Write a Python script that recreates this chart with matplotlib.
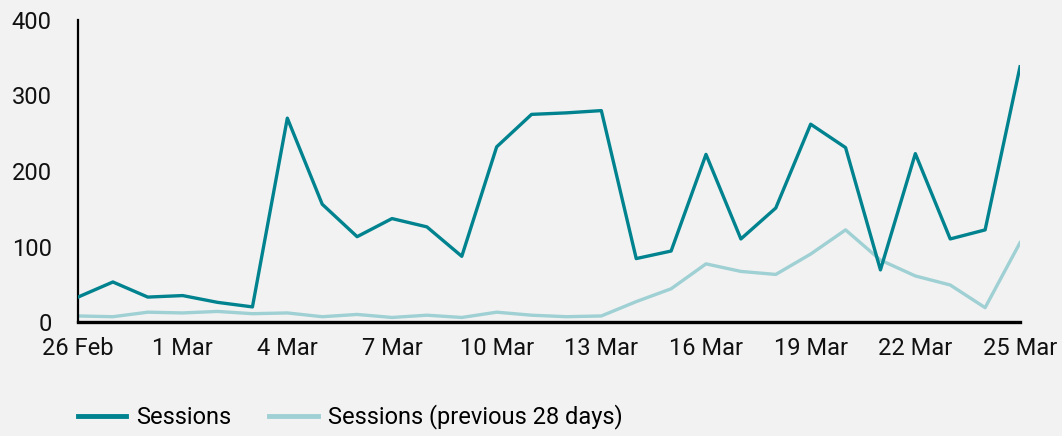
import matplotlib
matplotlib.use("Agg")
import matplotlib.pyplot as plt
import numpy as np

dates = ["26 Feb", "27 Feb", "28 Feb", "1 Mar", "2 Mar", "3 Mar", "4 Mar", "5 Mar",
         "6 Mar", "7 Mar", "8 Mar", "9 Mar", "10 Mar", "11 Mar", "12 Mar", "13 Mar",
         "14 Mar", "15 Mar", "16 Mar", "17 Mar", "18 Mar", "19 Mar", "20 Mar", "21 Mar",
         "22 Mar", "23 Mar", "24 Mar", "25 Mar"]
sessions = [33, 53, 33, 35, 26, 20, 270, 156, 113, 137, 126, 87, 232, 275, 277, 280,
            84, 94, 222, 110, 151, 262, 231, 69, 223, 110, 122, 338]
sessions_prev = [8, 7, 13, 12, 14, 11, 12, 7, 10, 6, 9, 6, 13, 9, 7, 8,
                 27, 44, 77, 67, 63, 90, 122, 82, 61, 49, 19, 105]
tick_labels = ["26 Feb", "1 Mar", "4 Mar", "7 Mar", "10 Mar", "13 Mar", "16 Mar",
               "19 Mar", "22 Mar", "25 Mar"]
y_ticks = [0, 100, 200, 300, 400]

plt.rcParams['font.family'] = ['Roboto', 'DejaVu Sans']
FS = 17
bg = "#f2f2f2"

fig = plt.figure(figsize=(10.62, 4.36), dpi=100, facecolor=bg)
ax = fig.add_axes([78/1062, 1-322/436, (1020-78)/1062, (322-20)/436], facecolor=bg)

x = np.arange(len(dates))
ax.plot(x, sessions, color="#00838f", lw=2.4, label="Sessions", zorder=3)
ax.plot(x, sessions_prev, color="#9fd0d4", lw=2.4, label="Sessions (previous 28 days)",
        zorder=2)

ax.set_xlim(0, len(dates) - 1)
ax.set_ylim(0, 400)
ax.set_xticks([dates.index(t) for t in tick_labels])
ax.set_xticklabels(tick_labels)
ax.set_yticks(y_ticks)
ax.set_yticklabels([str(v) for v in y_ticks])
ax.tick_params(axis='both', length=0, labelsize=FS, colors="#111111")
ax.tick_params(axis='x', pad=11)
ax.tick_params(axis='y', pad=19)

for s in ["top", "right"]:
    ax.spines[s].set_visible(False)
ax.spines["left"].set_linewidth(1.6)
ax.spines["bottom"].set_linewidth(2.4)
ax.spines["left"].set_color("black")
ax.spines["bottom"].set_color("black")
ax.spines["bottom"].set_zorder(4)

leg = fig.legend(loc="center left", bbox_to_anchor=(78/1062, 1-417/436), ncol=2,
                 frameon=False, fontsize=FS, handlelength=2.05, handletextpad=0.42,
                 columnspacing=1.6, borderpad=0, borderaxespad=0)
for line in leg.get_lines():
    line.set_linewidth(3.5)

fig.savefig("out.png", dpi=100, facecolor=bg)
